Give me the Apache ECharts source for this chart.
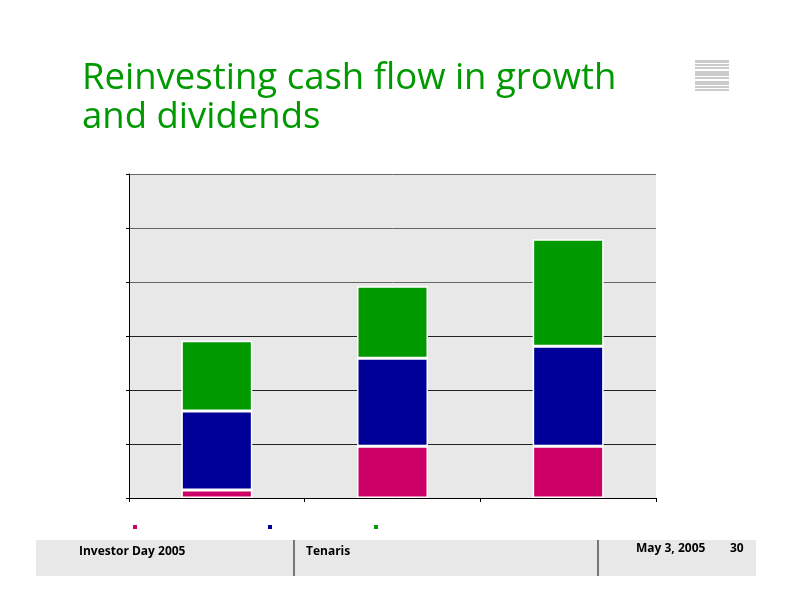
<!DOCTYPE html>
<html>
<head>
<meta charset="utf-8">
<script src="https://cdn.jsdelivr.net/npm/echarts@6/dist/echarts.min.js"></script>
<style>
html,body{margin:0;padding:0;background:#fff;}
#c{width:792px;height:612px;}
</style>
</head>
<body>
<div id="c"></div>
<script>
var categories = ['Cat 1', 'Cat 2', 'Cat 3'];
var seriesNames = ['Series 1', 'Series 2', 'Series 3'];
var series1 = [15, 96, 96];
var series2 = [146, 163, 185];
var series3 = [130, 133, 198];
var yMin = 0, yMax = 600, yStep = 100;

var colors = ['#cc0066', '#000099', '#009900'];
var chart = echarts.init(document.getElementById('c'));
var stripeRects = [];
var stripes = [[60,3],[64,2],[67,2],[71,5],[77,2],[81,4],[86,2],[89,2]];
stripes.forEach(function(s){
  stripeRects.push({type:'rect', shape:{x:695,y:s[0],width:34,height:s[1]}, style:{fill:'#cccccc'}, silent:true});
});
var vals = [series1, series2, series3];
var option = {
  animation: false,
  backgroundColor: '#ffffff',
  title: {
    text: 'Reinvesting cash flow in growth\nand dividends',
    left: 77, top: 54,
    textStyle: {color:'#009900', fontSize:36.5, fontWeight:'normal', fontFamily:'Open Sans', lineHeight:39}
  },
  legend: [0,1,2].map(function(i){
    var lefts = [132, 267, 373];
    return {data:[seriesNames[i]], left: lefts[i] - 6, top: 518, itemWidth:6, itemHeight:6, icon:'rect', formatter:function(){return '';}, textStyle:{fontSize:1}, selectedMode:false};
  }),
  grid: {left:129, right:136, top:174, bottom:114, show:true, backgroundColor:'#e8e8e8', borderWidth:0},
  xAxis: {
    type:'category', data: categories,
    axisLine:{show:true, lineStyle:{color:'#000', width:1}},
    axisTick:{show:true, length:4, lineStyle:{color:'#000'}},
    axisLabel:{show:false},
    splitLine:{show:false}
  },
  yAxis: {
    type:'value', min:yMin, max:yMax, interval:yStep,
    axisLine:{show:true, lineStyle:{color:'#000', width:1}},
    axisTick:{show:true, length:3, lineStyle:{color:'#000'}},
    axisLabel:{show:false},
    splitLine:{show:true, lineStyle:{color:['#222','#222','#222','#222','#666','#666','#666'], width:1}}
  },
  series: [0,1,2].map(function(i){
    return {
      name: seriesNames[i], type:'bar', stack:'total', data: vals[i], barWidth:71,
      itemStyle:{color:colors[i], borderColor:'#ffffff', borderWidth:1.5}
    };
  }),
  color: colors,
  graphic: stripeRects.concat([
    {type:'rect', shape:{x:36,y:540,width:720,height:36}, style:{fill:'#e8e8e8'}, silent:true, z:-1},
    {type:'rect', shape:{x:293,y:540,width:2,height:36}, style:{fill:'#777'}, silent:true},
    {type:'rect', shape:{x:597,y:540,width:2,height:36}, style:{fill:'#777'}, silent:true},
    {type:'text', left:79, top:546, style:{text:'Investor Day 2005', font:'bold 12px "Open Sans"', fill:'#000'}},
    {type:'text', left:306, top:546, style:{text:'Tenaris', font:'bold 12px "Open Sans"', fill:'#000'}},
    {type:'text', left:636, top:543, style:{text:'May 3, 2005', font:'bold 12px "Open Sans"', fill:'#000'}},
    {type:'text', left:730, top:543, style:{text:'30', font:'bold 12px "Open Sans"', fill:'#000'}}
  ])
};
chart.setOption(option);
</script>
</body>
</html>
